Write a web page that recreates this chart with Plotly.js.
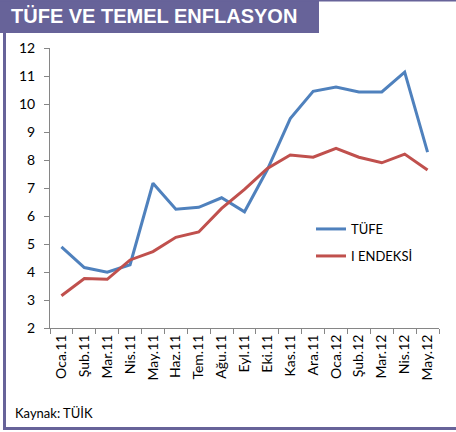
<!DOCTYPE html>
<html>
<head>
<meta charset="utf-8">
<script src="https://cdn.plot.ly/plotly-3.0.1.min.js"></script>
<style>html,body{margin:0;padding:0;background:#fff;}#chart{width:456px;height:432px;}</style>
</head>
<body>
<div id="chart"></div>
<script>
const months = ["Oca.11","Şub.11","Mar.11","Nis.11","May.11","Haz.11","Tem.11","Ağu.11","Eyl.11","Eki.11","Kas.11","Ara.11","Oca.12","Şub.12","Mar.12","Nis.12","May.12"];
const tufe = [4.90, 4.16, 3.99, 4.26, 7.17, 6.24, 6.31, 6.65, 6.15, 7.66, 9.48, 10.45, 10.61, 10.43, 10.43, 11.14, 8.28];
const iEndeksi = [3.15, 3.77, 3.74, 4.43, 4.73, 5.24, 5.43, 6.27, 6.95, 7.70, 8.18, 8.10, 8.42, 8.10, 7.90, 8.21, 7.64];
const yTicks = [2,3,4,5,6,7,8,9,10,11,12];

const W = 456, H = 432, L = 50, R = 17, T = 48, B = 104;
const pw = W - L - R, ph = H - T - B;
const px = x => (x - L) / pw;
const py = y => (H - B - y) / ph;
const purple = "#676399";
const font = "Lato, 'Noto Sans', sans-serif";

const traces = [
  {x: months, y: tufe, type: "scatter", mode: "lines", name: "TÜFE",
   line: {color: "#4F81BD", width: 3}, legend: "legend"},
  {x: months, y: iEndeksi, type: "scatter", mode: "lines", name: "I ENDEKSİ",
   line: {color: "#C0504D", width: 3}, legend: "legend2"}
];

const layout = {
  width: W, height: H,
  margin: {l: L, r: R, t: T, b: B},
  paper_bgcolor: "#fff", plot_bgcolor: "#fff",
  font: {family: font, color: "#000"},
  showlegend: true,
  legend: {x: px(311), y: py(229), xanchor: "left", yanchor: "middle", bgcolor: "rgba(0,0,0,0)",
           font: {size: 13, family: font}},
  legend2: {x: px(311), y: py(256), xanchor: "left", yanchor: "middle", bgcolor: "rgba(0,0,0,0)",
           font: {size: 13, family: font}},
  xaxis: {type: "category", tickangle: -90, tickson: "boundaries", ticks: "outside", ticklen: 5,
          tickcolor: "#868686", showline: true, linecolor: "#868686", linewidth: 1,
          showgrid: false, zeroline: false, tickfont: {size: 14, family: font},
          range: [-0.5, months.length - 0.5], fixedrange: true},
  yaxis: {range: [2, 12], tickvals: yTicks, ticktext: yTicks.map(String), ticks: "outside", ticklen: 5,
          tickcolor: "#868686", showline: true, linecolor: "#868686", linewidth: 1,
          showgrid: false, zeroline: false, tickfont: {size: 14, family: font}, ticklabelstandoff: 6},
  shapes: [
    {type: "rect", xref: "paper", yref: "paper", x0: px(0), x1: px(319), y0: py(33), y1: py(0),
     fillcolor: purple, line: {width: 0}, layer: "below"},
    {type: "line", xref: "paper", yref: "paper", x0: px(0), x1: px(456), y0: py(0.8), y1: py(0.8),
     line: {color: purple, width: 1.6}},
    {type: "line", xref: "paper", yref: "paper", x0: px(4.5), x1: px(4.5), y0: py(33), y1: py(428.5),
     line: {color: purple, width: 3}},
    {type: "line", xref: "paper", yref: "paper", x0: px(3), x1: px(456), y0: py(428.5), y1: py(428.5),
     line: {color: purple, width: 3}}
  ],
  annotations: [
    {text: "<b>TÜFE VE TEMEL ENFLASYON</b>", xref: "paper", yref: "paper", x: px(9), y: py(16),
     xanchor: "left", yanchor: "middle", showarrow: false,
     font: {family: "'Liberation Sans', Arial, sans-serif", size: 20, color: "#fff"}},
    {text: "Kaynak: TÜİK", xref: "paper", yref: "paper", x: px(13), y: py(413),
     xanchor: "left", yanchor: "middle", showarrow: false,
     font: {family: font, size: 13, color: "#000"}}
  ]
};

Plotly.newPlot("chart", traces, layout, {displayModeBar: false, staticPlot: true});
</script>
</body>
</html>
